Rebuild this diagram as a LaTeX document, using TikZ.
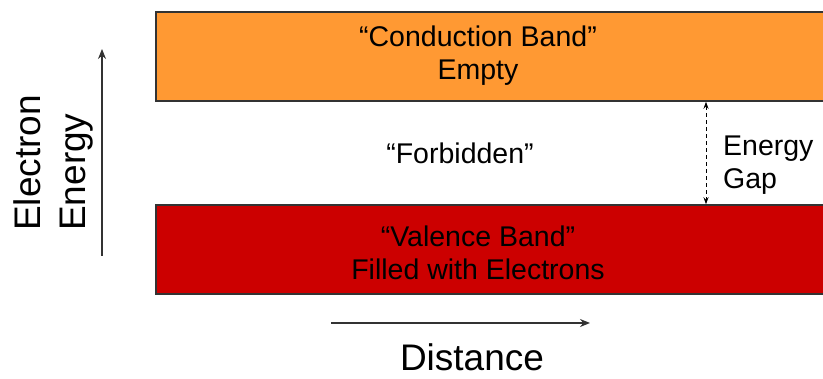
\documentclass[tikz,border=0pt]{standalone}
\usepackage{fontspec}
\setmainfont{Liberation Sans}
\usetikzlibrary{arrows.meta}
\definecolor{cbfill}{HTML}{FF9933}
\definecolor{vbfill}{HTML}{CC0000}
\definecolor{edge}{HTML}{333333}
\begin{document}
\begin{tikzpicture}[x=1pt,y=-1pt,
  band/.style={draw=edge, line width=1.5pt, rectangle, inner sep=0pt, minimum width=676pt, minimum height=89pt},
  lbl/.style={font=\fontsize{28.5}{33}\selectfont, align=center, inner sep=0pt},
  axlbl/.style={font=\fontsize{37}{44}\selectfont, inner sep=0pt},
  axis/.style={draw=edge, line width=1.2pt, -{Stealth[length=10pt,width=8pt]}},
  gap/.style={draw=black, line width=1pt, dashed, dash pattern=on 4pt off 3pt, {Stealth[length=7pt,width=5pt]}-{Stealth[length=7pt,width=5pt]}}]
\useasboundingbox (0,0) rectangle (823,379);
% energy bands
\node[band, fill=cbfill] (cb) at (494,56.5) {};
\node[band, fill=vbfill] (vb) at (494,249.5) {};
\node[lbl] (cbtxt) at (478,56) {“Conduction Band”\\Empty};
\node[lbl] (vbtxt) at (478,253) {“Valence Band”\\Filled with Electrons};
\node[lbl] (forb) at (460,153) {“Forbidden”};
% band gap
\coordinate (gx) at (706,0);
\draw[gap] (cb.south -| gx) -- (vb.north -| gx);
\node[lbl, anchor=west, align=left] (egap) at (723,165) {Energy\\Gap};
% energy axis
\coordinate (ea0) at (102,256);
\coordinate (ea1) at (102,49);
\draw[axis] (ea0) -- (ea1);
\node[axlbl, rotate=90, anchor=base west] (el) at (40,231) {Electron};
\node[axlbl, rotate=90, anchor=base west] (en) at (85,231) {Energy};
% distance axis
\coordinate (da0) at (331,323);
\coordinate (da1) at (590,323);
\draw[axis] (da0) -- (da1);
\node[axlbl] (dist) at (472,357) {Distance};
\end{tikzpicture}
\end{document}
